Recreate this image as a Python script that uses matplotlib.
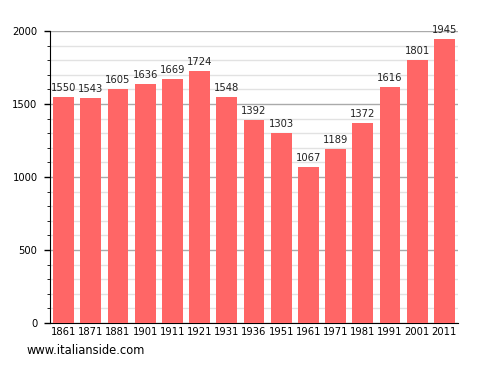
import matplotlib
matplotlib.use("Agg")
import matplotlib.pyplot as plt
import numpy as np

years = ["1861", "1871", "1881", "1901", "1911", "1921", "1931", "1936",
         "1951", "1961", "1971", "1981", "1991", "2001", "2011"]
population = [1550, 1543, 1605, 1636, 1669, 1724, 1548, 1392,
              1303, 1067, 1189, 1372, 1616, 1801, 1945]

fig = plt.figure(figsize=(4.88, 3.73), dpi=100)
ax = fig.add_axes([50/488, 50/373, 408/488, 292/373])

x = np.arange(len(years))
ax.bar(x, population, width=0.76, color="#ff6666", zorder=3)

for xi, v in zip(x, population):
    ax.text(xi, v + 28, str(v), ha="center", va="bottom", fontsize=7.2, color="#222222")

ax.set_xlim(-0.5, len(years) - 0.5)
ax.set_ylim(0, 2000)
ax.set_xticks(x)
ax.set_xticklabels(years, fontsize=7.2)
ax.set_yticks(np.arange(0, 2001, 500))
ax.set_yticks(np.arange(0, 2001, 100), minor=True)
ax.tick_params(axis="y", labelsize=7.2, length=4, width=1, pad=5)
ax.tick_params(axis="y", which="minor", length=2)
ax.tick_params(axis="x", length=0, pad=3)

ax.grid(axis="y", which="major", color="#aaaaaa", linewidth=1, zorder=0)
ax.grid(axis="y", which="minor", color="#e2e2e2", linewidth=1, zorder=0)
ax.set_axisbelow(True)

for s in ["top", "right"]:
    ax.spines[s].set_visible(False)
ax.spines["left"].set_color("black")
ax.spines["bottom"].set_color("black")

fig.text(27/488, 1 - 351/373, "www.italianside.com", fontsize=8.3, va="center", ha="left")

fig.savefig("out.png", dpi=100)
